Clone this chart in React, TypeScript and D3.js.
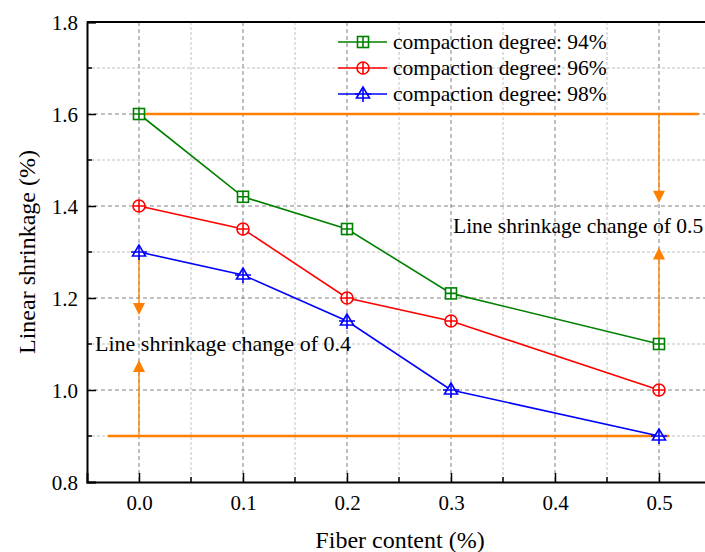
import { useEffect, useRef } from "react";
import * as d3 from "d3";

const fiberContent = [0, 0.1, 0.2, 0.3, 0.5];
const shrink94 = [1.6, 1.42, 1.35, 1.21, 1.1];
const shrink96 = [1.4, 1.35, 1.2, 1.15, 1.0];
const shrink98 = [1.3, 1.25, 1.15, 1.0, 0.9];
const seriesNames = ["compaction degree: 94%", "compaction degree: 96%", "compaction degree: 98%"];
const seriesColors = ["#008000", "#ff0000", "#0000ff"];
const xTicks = [0, 0.1, 0.2, 0.3, 0.4, 0.5];
const yTicks = [0.8, 1.0, 1.2, 1.4, 1.6, 1.8];

const ORANGE = "#ff8000";
const FONT = "'Liberation Serif', 'Times New Roman', serif";

const App = () => {
    const svgRef = useRef<SVGSVGElement>(null);

    useEffect(() => {
        const svg = d3.select(svgRef.current);
        svg.selectAll("*").remove();

        const left = 87, top = 22, bottom = 482;
        const x = d3.scaleLinear().domain([-0.05, 0.55]).range([left, left + 624]);
        const y = d3.scaleLinear().domain([0.8, 1.8]).range([bottom, top]);

        const xMinor = d3.range(0.05, 0.55, 0.1);
        const yMinor = d3.range(0.9, 1.8, 0.2);

        // grid
        const grid = svg.append("g");
        grid.selectAll(".vmin").data(xMinor).enter().append("line")
            .attr("x1", (d) => x(d)).attr("x2", (d) => x(d)).attr("y1", top).attr("y2", bottom)
            .attr("stroke", "#c0c0c0").attr("stroke-dasharray", "3,2").attr("stroke-width", 1);
        grid.selectAll(".hmin").data(yMinor).enter().append("line")
            .attr("x1", left).attr("x2", 705).attr("y1", (d) => y(d)).attr("y2", (d) => y(d))
            .attr("stroke", "#c0c0c0").attr("stroke-dasharray", "3,2").attr("stroke-width", 1);
        grid.selectAll(".vmaj").data(xTicks).enter().append("line")
            .attr("x1", (d) => x(d)).attr("x2", (d) => x(d)).attr("y1", top).attr("y2", bottom)
            .attr("stroke", "#808080").attr("stroke-dasharray", "4,3").attr("stroke-width", 1);
        grid.selectAll(".hmaj").data(yTicks.slice(1, -1)).enter().append("line")
            .attr("x1", left).attr("x2", 705).attr("y1", (d) => y(d)).attr("y2", (d) => y(d))
            .attr("stroke", "#808080").attr("stroke-dasharray", "4,3").attr("stroke-width", 1);

        // axes (inside ticks)
        const xAxis = svg.append("g").attr("transform", `translate(0,${bottom})`)
            .call(d3.axisBottom(x).tickValues(xTicks).tickSize(-9).tickFormat(d3.format(".1f")));
        const yAxis = svg.append("g").attr("transform", `translate(${left},0)`)
            .call(d3.axisLeft(y).tickValues(yTicks).tickSize(-9).tickFormat(d3.format(".1f")));
        [xAxis, yAxis].forEach((ax) => {
            ax.attr("font-family", FONT).attr("font-size", 21);
            ax.select(".domain").attr("stroke", "#000").attr("stroke-width", 2);
            ax.selectAll(".tick line").attr("stroke", "#000").attr("stroke-width", 1.5);
            ax.selectAll(".tick text").attr("fill", "#000");
        });
        xAxis.selectAll(".tick text").attr("dy", 0).attr("y", 28);
        yAxis.selectAll(".tick text").attr("x", -9).attr("dy", "0.35em");
        svg.append("g").selectAll("line").data(xMinor).enter().append("line")
            .attr("x1", (d) => x(d)).attr("x2", (d) => x(d)).attr("y1", bottom).attr("y2", bottom - 5)
            .attr("stroke", "#000").attr("stroke-width", 1.5);
        svg.append("g").selectAll("line").data(yMinor).enter().append("line")
            .attr("x1", left).attr("x2", left + 5).attr("y1", (d) => y(d)).attr("y2", (d) => y(d))
            .attr("stroke", "#000").attr("stroke-width", 1.5);
        svg.append("line").attr("x1", left).attr("x2", 705).attr("y1", top).attr("y2", top)
            .attr("stroke", "#000").attr("stroke-width", 2);

        // orange reference lines
        svg.append("line").attr("x1", x(0)).attr("x2", x(0.538)).attr("y1", y(1.6)).attr("y2", y(1.6))
            .attr("stroke", ORANGE).attr("stroke-width", 2.5);
        svg.append("line").attr("x1", x(-0.03)).attr("x2", x(0.51)).attr("y1", y(0.9)).attr("y2", y(0.9))
            .attr("stroke", ORANGE).attr("stroke-width", 2.5);

        const arrow = (xv: number, from: number, to: number) => {
            const x0 = x(xv), y0 = y(from), y1 = y(to);
            const dir = y1 > y0 ? 1 : -1;
            svg.append("line").attr("x1", x0).attr("x2", x0).attr("y1", y0).attr("y2", y1 - dir * 10)
                .attr("stroke", ORANGE).attr("stroke-width", 1.3);
            svg.append("path")
                .attr("d", `M${x0},${y1} L${x0 - 6},${y1 - dir * 12} L${x0 + 6},${y1 - dir * 12} Z`)
                .attr("fill", ORANGE);
        };
        arrow(0, 1.3, 1.163);
        arrow(0, 0.9, 1.065);
        arrow(0.5, 1.6, 1.407);
        arrow(0.5, 1.1, 1.31);

        svg.append("text").attr("x", 95).attr("y", 351).attr("font-family", FONT).attr("font-size", 22)
            .text("Line shrinkage change of 0.4");
        svg.append("text").attr("x", 453).attr("y", 233).attr("font-family", FONT).attr("font-size", 21.5)
            .text("Line shrinkage change of 0.5");

        // markers
        const drawMarker = (g: any, kind: number, cx: number, cy: number, color: string) => {
            const m = g.append("g").attr("fill", "none").attr("stroke", color).attr("stroke-width", 1.6);
            if (kind === 0) {
                m.append("rect").attr("x", cx - 5.5).attr("y", cy - 5.5).attr("width", 11).attr("height", 11)
                    .attr("fill", "#fff");
                m.append("path").attr("d", `M${cx - 5.5},${cy} H${cx + 5.5} M${cx},${cy - 5.5} V${cy + 5.5}`);
            } else if (kind === 1) {
                m.append("circle").attr("cx", cx).attr("cy", cy).attr("r", 6).attr("fill", "#fff");
                m.append("path").attr("d", `M${cx - 6},${cy} H${cx + 6} M${cx},${cy - 6} V${cy + 6}`);
            } else {
                m.append("path").attr("d", `M${cx},${cy - 7} L${cx - 6.5},${cy + 4} L${cx + 6.5},${cy + 4} Z`)
                    .attr("fill", "#fff");
                m.append("path").attr("d", `M${cx - 8},${cy} H${cx + 8} M${cx},${cy - 7} V${cy + 8}`);
            }
        };

        const allSeries = [shrink94, shrink96, shrink98];
        const line = d3.line<number>().x((_, i) => x(fiberContent[i])).y((d) => y(d));
        allSeries.forEach((vals, si) => {
            svg.append("path").datum(vals).attr("d", line).attr("fill", "none")
                .attr("stroke", seriesColors[si]).attr("stroke-width", 1.6);
        });
        allSeries.forEach((vals, si) => {
            const g = svg.append("g");
            vals.forEach((v, i) => drawMarker(g, si, x(fiberContent[i]), y(v), seriesColors[si]));
        });

        // legend
        const legend = svg.append("g");
        seriesNames.forEach((name, i) => {
            const ly = 42 + i * 26;
            legend.append("line").attr("x1", 338).attr("x2", 387).attr("y1", ly).attr("y2", ly)
                .attr("stroke", seriesColors[i]).attr("stroke-width", 1.6);
            drawMarker(legend, i, 363, ly, seriesColors[i]);
            legend.append("text").attr("x", 393).attr("y", ly + 7).attr("font-family", FONT)
                .attr("font-size", 21.5).text(name);
        });

        // axis titles
        svg.append("text").attr("x", 400).attr("y", 548).attr("text-anchor", "middle")
            .attr("font-family", FONT).attr("font-size", 24).text("Fiber content (%)");
        svg.append("text").attr("transform", `translate(35,${(top + bottom) / 2}) rotate(-90)`)
            .attr("text-anchor", "middle").attr("font-family", FONT).attr("font-size", 24)
            .text("Linear shrinkage (%)");
    }, []);

    return (
        <div style={{ position: "absolute", left: 0, top: 0 }}>
            <svg ref={svgRef} width={705} height={552} style={{ display: "block", background: "#fff" }}></svg>
        </div>
    );
};

export default App;
